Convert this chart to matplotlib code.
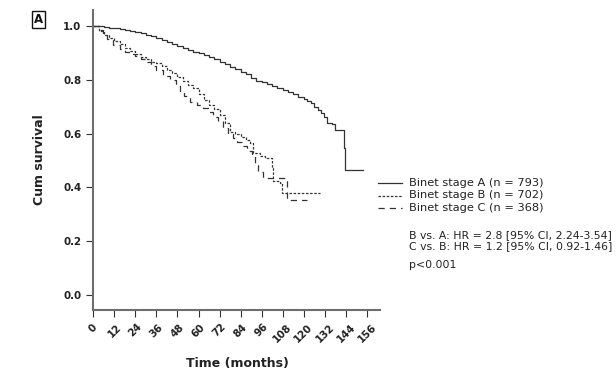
import matplotlib
matplotlib.use("Agg")
import matplotlib.pyplot as plt
from matplotlib.lines import Line2D

# ---- data ----
t_A = [0, 3, 6, 9, 12, 15, 18, 21, 24, 27, 30, 33, 36, 39, 42, 45, 48, 51, 54,
       57, 60, 63, 66, 69, 72, 75, 78, 81, 84, 87, 90, 93, 96, 99, 102, 105,
       108, 111, 114, 117, 120, 122, 124, 126, 128, 130, 131.5, 133, 136, 138,
       142.7, 143.5, 154]
s_A = [1.0, 0.999, 0.997, 0.994, 0.992, 0.989, 0.987, 0.983, 0.979, 0.974,
       0.968, 0.961, 0.954, 0.947, 0.941, 0.934, 0.927, 0.919, 0.911, 0.904,
       0.898, 0.891, 0.884, 0.876, 0.867, 0.858, 0.848, 0.839, 0.83, 0.82,
       0.805, 0.795, 0.791, 0.785, 0.777, 0.768, 0.762, 0.754, 0.746, 0.735,
       0.727, 0.72, 0.712, 0.70, 0.688, 0.677, 0.66, 0.64, 0.636, 0.615,
       0.547, 0.465, 0.465]

t_B = [0, 3, 6, 9, 12, 15, 18, 21, 24, 27, 30, 33, 36, 39, 42, 45, 48, 51, 54,
       57, 60, 63, 66, 69, 72, 75, 78, 81, 84, 87, 89.4, 91.3, 95, 98, 101.8,
       102.7, 106.5, 107.5, 129.4]
s_B = [1.0, 0.98, 0.968, 0.956, 0.944, 0.933, 0.92, 0.908, 0.897, 0.885,
       0.876, 0.868, 0.861, 0.85, 0.838, 0.826, 0.812, 0.795, 0.782, 0.768,
       0.746, 0.724, 0.708, 0.69, 0.668, 0.64, 0.607, 0.597, 0.588, 0.576,
       0.565, 0.528, 0.518, 0.509, 0.472, 0.422, 0.416, 0.378, 0.378]

t_C = [0, 3, 5.7, 8, 11.4, 15, 18, 21, 24, 27, 30.5, 33, 36, 40, 43.8, 47,
       49.5, 52, 55, 59, 62.8, 66, 68.5, 71, 74.2, 77, 79.9, 82, 84.7, 87.6,
       90.4, 92, 94.2, 97, 110.3, 121.8]
s_C = [1.0, 0.985, 0.967, 0.95, 0.929, 0.915, 0.905, 0.895, 0.887, 0.877,
       0.867, 0.852, 0.836, 0.815, 0.80, 0.776, 0.756, 0.738, 0.719, 0.705,
       0.694, 0.68, 0.663, 0.645, 0.62, 0.60, 0.585, 0.57, 0.553, 0.535,
       0.515, 0.49, 0.459, 0.434, 0.353, 0.353]

x_ticks = list(range(0, 157, 12))
y_ticks = [0.0, 0.2, 0.4, 0.6, 0.8, 1.0]
legend_labels = ["Binet stage A (n = 793)", "Binet stage B (n = 702)",
                 "Binet stage C (n = 368)"]
stat_lines = ["B vs. A: HR = 2.8 [95% CI, 2.24-3.54]",
              "C vs. B: HR = 1.2 [95% CI, 0.92-1.46]"]
p_text = "p<0.001"

# ---- figure ----
W, H = 616, 373
fig = plt.figure(figsize=(W / 100, H / 100), dpi=100)
plt.rcParams['font.family'] = ['DejaVu Sans']

def fx(x):
    return x / W

def fy(y):
    return 1 - y / H

ax = fig.add_axes([fx(93.3), fy(310), fx(380) - fx(93.3), fy(10) - fy(310)])
ax.set_xlim(0, 163.5)
ax.set_ylim(-0.0558, 1.0595)

col = '#333333'
styles = ['-', (0, (2, 1.3)), (0, (5, 4))]
series = [(t_A, s_A), (t_B, s_B), (t_C, s_C)]
for (t, s), ls in zip(series, styles):
    ax.plot(t, s, drawstyle='steps-post', color=col, linestyle=ls, lw=0.9)

for sp in ['top', 'right']:
    ax.spines[sp].set_visible(False)
for sp in ['left', 'bottom']:
    ax.spines[sp].set_color('#6e6e6e')
    ax.spines[sp].set_linewidth(1.5)

ax.set_xticks(x_ticks)
ax.set_xticklabels([str(v) for v in x_ticks], rotation=45, ha='center',
                   fontsize=7.4, fontweight='bold', color='#222222')
ax.set_yticks(y_ticks)
ax.set_yticklabels([f"{v:.1f}" for v in y_ticks], fontsize=7.4,
                   fontweight='bold', color='#222222')
ax.tick_params(axis='both', length=5, width=0.8, color='#333333', pad=3.5)

fig.text(fx(237), fy(363), "Time (months)", fontsize=9, fontweight='bold',
         ha='center', va='center', color='#222222')
fig.text(fx(40), fy(160), "Cum survival", fontsize=9, fontweight='bold',
         ha='center', va='center', rotation=90, color='#222222')

# panel label
fig.text(fx(38.5), fy(19.5), "A", fontsize=8.5, fontweight='bold',
         ha='center', va='center', color='#111111',
         bbox=dict(boxstyle='square,pad=0.15', fc='white', ec='#111111', lw=1))

# legend (manual)
rows_y = [182.7, 195.5, 208.3]
for yy, ls, lab in zip(rows_y, styles, legend_labels):
    fig.add_artist(Line2D([fx(378.3), fx(401.7)], [fy(yy), fy(yy)],
                          transform=fig.transFigure, color=col, lw=0.9,
                          linestyle=ls))
    fig.text(fx(409), fy(yy), lab, fontsize=8.2, ha='left', va='center',
             color='#222222')

for yy, lab in zip([235.3, 245.6], stat_lines):
    fig.text(fx(409), fy(yy), lab, fontsize=7.8, ha='left', va='center',
             color='#222222')
fig.text(fx(409), fy(265), p_text, fontsize=7.8, ha='left', va='center',
         color='#222222')

fig.savefig("out.png", dpi=100)
